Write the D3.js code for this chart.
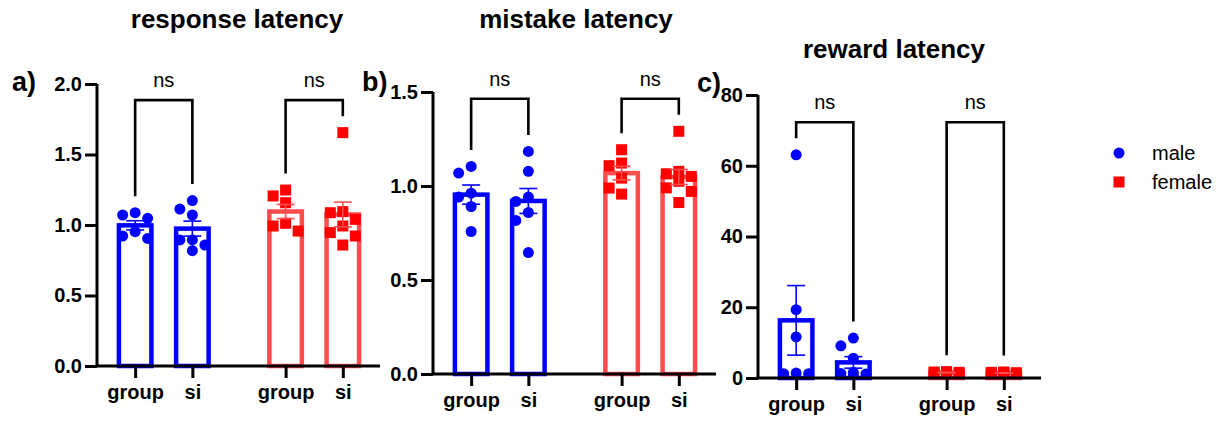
<!DOCTYPE html>
<html><head><meta charset="utf-8">
<script src="https://cdn.jsdelivr.net/npm/d3@7"></script>
<style>body{margin:0;background:#fff}svg{display:block}</style>
</head><body>
<svg id="chart" width="1227" height="421"></svg>
<script>
// ---- data ----
const categories = ["group", "si", "group", "si"];
const seriesNames = ["male", "female"];
const panelTitles = ["response latency", "mistake latency", "reward latency"];
const panelLabels = ["a)", "b)", "c)"];

const respMaleGroup = [1.071, 1.047, 1.087, 0.905, 0.953, 0.922];
const respMaleSi    = [1.113, 1.173, 1.071, 0.894, 0.894, 0.858, 0.818];
const respFemGroup  = [1.206, 1.158, 1.248, 0.957, 1.012, 0.993];
const respFemSi     = [1.655, 1.087, 1.095, 1.040, 0.993, 0.946, 0.922, 0.858];

const mistMaleGroup = [1.104, 1.069, 0.962, 0.941, 0.891, 0.758];
const mistMaleSi    = [1.184, 1.078, 0.941, 0.918, 0.859, 0.817, 0.646];
const mistFemGroup  = [1.193, 1.122, 1.108, 1.042, 0.989, 0.957];
const mistFemSi     = [1.291, 1.078, 1.065, 1.051, 1.025, 0.990, 0.971, 0.912];

const rewMaleGroup  = [63.1, 19.3, 11.6, 1.4, 1.2, 1.2];
const rewMaleSi     = [11.3, 9.1, 5.6, 1.6, 1.3, 1.1, 0.9];
const rewFemGroup   = [1.8, 1.5, 1.2, 1.6, 1.4, 1.7];
const rewFemSi      = [1.5, 1.3, 1.6, 1.2, 1.4, 1.7, 1.1, 1.5];

const respTicks = [0, 0.5, 1.0, 1.5, 2.0];
const mistTicks = [0, 0.5, 1.0, 1.5];
const rewTicks  = [0, 20, 40, 60, 80];
const sigLabels = ["ns", "ns"];

// ---- layout / style ----
const FONT = "'Liberation Sans', Arial, sans-serif";
const colors = {male: "#0000ff", female: "#ff0000"};
const barColors = {male: "#0000ff", female: "#ff4d4d"};
const slots = [0, 1, 2.63, 3.63];

const panels = [
  {groups: [respMaleGroup, respMaleSi, respFemGroup, respFemSi], ticks: respTicks, fmt: d3.format(".1f"),
   ax: 97, yTop: 84, yBot: 366, titleX: 237, titleY: 28, labX: 12, labY: 91},
  {groups: [mistMaleGroup, mistMaleSi, mistFemGroup, mistFemSi], ticks: mistTicks, fmt: d3.format(".1f"),
   ax: 433, yTop: 92, yBot: 374, titleX: 576, titleY: 28, labX: 362, labY: 91},
  {groups: [rewMaleGroup, rewMaleSi, rewFemGroup, rewFemSi], ticks: rewTicks, fmt: d3.format("d"),
   ax: 758, yTop: 95, yBot: 378, titleX: 894, titleY: 58, labX: 697, labY: 92}
];
const seriesOf = [0, 0, 1, 1];

const svg = d3.select("#chart");
const R = 5.5, BW = 32.5;

function swarm(vals, y, cx) {
  const d = 12.5, thr = 12.5;
  const placed = [];
  const sorted = vals.slice().sort((a, b) => b - a);
  for (const v of sorted) {
    const py = y(v);
    let best = null, bestD = -1;
    for (const off of [0, -d, d]) {
      const px = cx + off;
      let md = Infinity;
      for (const p of placed) md = Math.min(md, Math.hypot(p.x - px, p.y - py));
      if (md >= thr) { best = px; bestD = md; break; }
      if (md > bestD) { bestD = md; best = px; }
    }
    placed.push({x: best, y: py, v});
  }
  return placed;
}

panels.forEach((P, pi) => {
  const x = d3.scaleLinear().domain([-0.667, 4.28]).range([P.ax, P.ax + 283]);
  const y = d3.scaleLinear().domain([0, d3.max(P.ticks)]).range([P.yBot, P.yTop]);
  const g = svg.append("g");

  // title & panel label
  svg.append("text").attr("x", P.titleX).attr("y", P.titleY).attr("text-anchor", "middle")
    .attr("font-family", FONT).attr("font-weight", "bold").attr("font-size", 26).text(panelTitles[pi]);
  svg.append("text").attr("x", P.labX).attr("y", P.labY)
    .attr("font-family", FONT).attr("font-weight", "bold").attr("font-size", 27).text(panelLabels[pi]);

  const legEnds = [];
  P.groups.forEach((vals, gi) => {
    const s = seriesNames[seriesOf[gi]];
    const cx = x(slots[gi]);
    const m = d3.mean(vals);
    const sem = d3.deviation(vals) / Math.sqrt(vals.length);
    // bar
    g.append("rect").attr("x", cx - BW / 2).attr("y", y(m)).attr("width", BW)
      .attr("height", Math.max(0, y(0) - y(m))).attr("fill", "none")
      .attr("stroke", barColors[s]).attr("stroke-width", 4.5);
    // points
    const pts = swarm(vals, y, cx);
    if (s === "male") {
      g.selectAll(null).data(pts).enter().append("circle")
        .attr("cx", d => d.x).attr("cy", d => d.y).attr("r", R).attr("fill", colors[s]);
    } else {
      g.selectAll(null).data(pts).enter().append("rect")
        .attr("x", d => d.x - R).attr("y", d => d.y - R).attr("width", 2 * R).attr("height", 2 * R)
        .attr("fill", colors[s]);
    }
    // error bar
    const eb = g.append("g").attr("stroke", barColors[s]).attr("stroke-width", 1.6);
    eb.append("line").attr("x1", cx).attr("x2", cx).attr("y1", y(m + sem)).attr("y2", y(Math.max(0, m - sem)));
    eb.append("line").attr("x1", cx - 9).attr("x2", cx + 9).attr("y1", y(m + sem)).attr("y2", y(m + sem));
    eb.append("line").attr("x1", cx - 9).attr("x2", cx + 9).attr("y1", y(Math.max(0, m - sem))).attr("y2", y(Math.max(0, m - sem)));
    legEnds.push({cx, y: y(d3.max(vals)) - R - 11});
  });

  // brackets
  const top = d3.min(legEnds, d => d.y) - 16;
  [[0, 1], [2, 3]].forEach(([a, b], k) => {
    const A = legEnds[a], B = legEnds[b];
    svg.append("path").attr("d", `M${A.cx},${A.y}V${top}H${B.cx}V${B.y}`)
      .attr("fill", "none").attr("stroke", "#000").attr("stroke-width", 2.6);
    svg.append("text").attr("x", (A.cx + B.cx) / 2).attr("y", top - 13).attr("text-anchor", "middle")
      .attr("font-family", FONT).attr("font-size", 20).text(sigLabels[k]);
  });

  // axes
  const yAxis = svg.append("g").attr("transform", `translate(${P.ax},0)`)
    .call(d3.axisLeft(y).tickValues(P.ticks).tickFormat(P.fmt).tickSize(12).tickPadding(3));
  const xAxis = svg.append("g").attr("transform", `translate(0,${P.yBot})`)
    .call(d3.axisBottom(x).tickValues(slots).tickFormat((d, i) => categories[i]).tickSize(12).tickPadding(7));
  [yAxis, xAxis].forEach(a => {
    a.select(".domain").attr("stroke", "#000").attr("stroke-width", 3);
    a.selectAll(".tick line").attr("stroke", "#000").attr("stroke-width", 3);
    a.selectAll(".tick text").attr("font-family", FONT).attr("font-weight", "bold")
      .attr("font-size", 20).attr("fill", "#000");
  });
  yAxis.select(".domain").attr("d", `M0,${P.yTop}V${P.yBot}`);
  yAxis.selectAll(".tick line").attr("x1", 0);
  xAxis.select(".domain").attr("d", `M${P.ax - 1.5},0H${P.ax + 283}`);
});

// legend
const leg = svg.append("g");
seriesNames.forEach((s, i) => {
  const ly = 153 + i * 29;
  if (s === "male") leg.append("circle").attr("cx", 1119).attr("cy", ly).attr("r", R).attr("fill", colors[s]);
  else leg.append("rect").attr("x", 1119 - R).attr("y", ly - R).attr("width", 2 * R).attr("height", 2 * R).attr("fill", colors[s]);
  leg.append("text").attr("x", 1152).attr("y", ly).attr("dy", "0.35em")
    .attr("font-family", FONT).attr("font-size", 20).text(s);
});
</script>
</body></html>
